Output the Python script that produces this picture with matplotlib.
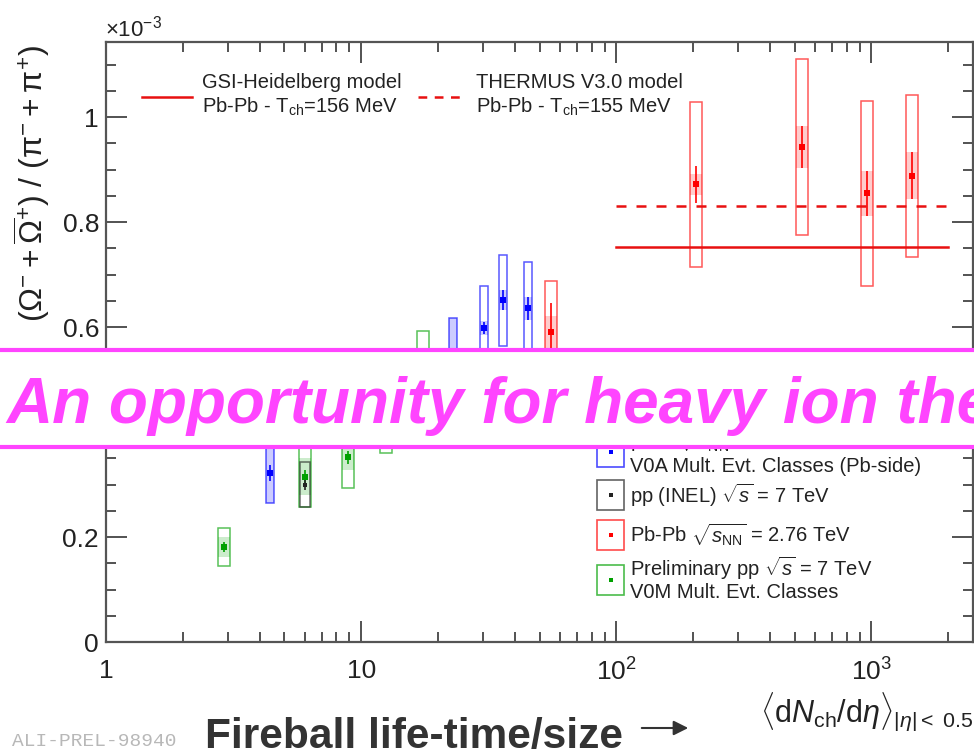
import numpy as np
import matplotlib.pyplot as plt
from matplotlib.patches import Rectangle, FancyArrowPatch
from matplotlib.lines import Line2D
from matplotlib.ticker import FixedLocator, FixedFormatter, LogLocator, MultipleLocator, NullFormatter

plt.rcParams['font.family'] = ['Liberation Sans', 'DejaVu Sans']
plt.rcParams['mathtext.fontset'] = 'custom'
plt.rcParams['mathtext.rm'] = 'Liberation Sans'
plt.rcParams['mathtext.it'] = 'Liberation Sans:italic'
plt.rcParams['mathtext.bf'] = 'Liberation Sans:bold'

# (Omega + anti-Omega) / (pi+ + pi-), in units of 1e-3, vs <dNch/deta>
# Pb-Pb 2.76 TeV
pbpb_dndeta = [55.5, 205, 535, 960, 1440]
pbpb_ratio = [0.591, 0.872, 0.943, 0.855, 0.888]
pbpb_stat = [0.054, 0.035, 0.040, 0.043, 0.045]
pbpb_sys = [0.097, 0.157, 0.168, 0.176, 0.154]
pbpb_sys_unc = [0.030, 0.020, 0.040, 0.043, 0.045]

# p-Pb 5.02 TeV, V0A classes
ppb_dndeta = [4.4, 9.8, 16.1, 22.9, 30.2, 35.9, 45.0]
ppb_ratio = [0.322, 0.460, 0.520, 0.545, 0.598, 0.651, 0.636]
ppb_stat = [0.016, 0.015, 0.015, 0.015, 0.012, 0.019, 0.022]
ppb_sys = [0.057, 0.045, 0.030, 0.072, 0.080, 0.087, 0.088]
ppb_sys_unc = [0.057, 0.025, 0.020, 0.072, 0.013, 0.019, 0.022]

# pp 7 TeV, V0M classes (preliminary)
pp_dndeta = [2.9, 6.0, 8.9, 12.5, 17.5]
pp_ratio = [0.181, 0.315, 0.352, 0.430, 0.520]
pp_stat = [0.010, 0.012, 0.012, 0.015, 0.015]
pp_sys = [0.037, 0.058, 0.059, 0.070, 0.072]
pp_sys_unc = [0.019, 0.035, 0.025, 0.030, 0.030]

# pp INEL 7 TeV
inel_dndeta = [6.0]
inel_ratio = [0.300]
inel_stat = [0.010]
inel_sys = [0.043]

# thermal model predictions for Pb-Pb
gsi_ratio = 0.752
thermus_ratio = 0.831
model_range = [100, 2000]

xtick_vals = [1, 10, 100, 1000]
xtick_labels = ['1', '10', '$10^{2}$', '$10^{3}$']
ytick_vals = [0, 0.2, 0.4, 0.6, 0.8, 1.0]
ytick_labels = ['0', '0.2', '0.4', '0.6', '0.8', '1']

W, H = 974, 749
txt = '#222222'


def px(x, y):
    # pixel position (from top-left) -> figure fraction
    return x / W, 1 - y / H


fig = plt.figure(figsize=(W / 100, H / 100), dpi=100)
ax = fig.add_axes([106 / W, 1 - 642 / H, (973 - 106) / W, 600 / H])
ax.set_xscale('log')
ax.set_xlim(1, 2500)
ax.set_ylim(0, 1.143)


def draw_series(x, y, stat, sys, sys_unc, color, fac, ms, mk='s'):
    for xi, yi, sy, su in zip(x, y, sys, sys_unc):
        lo, hi = xi / fac, xi * fac
        ax.add_patch(Rectangle((lo, yi - su), hi - lo, 2 * su, facecolor=color,
                               alpha=0.2, lw=0, zorder=2))
        ax.add_patch(Rectangle((lo, yi - sy), hi - lo, 2 * sy, fill=False,
                               edgecolor=color, lw=1.1, alpha=0.65, zorder=3))
    ax.errorbar(x, y, yerr=stat, fmt=mk, color=color, ms=ms, mew=0,
                elinewidth=1.2, capsize=0, zorder=4)


draw_series(pp_dndeta, pp_ratio, pp_stat, pp_sys, pp_sys_unc, '#00a000', 1.056, 4)
draw_series(inel_dndeta, inel_ratio, inel_stat, inel_sys, [0.0], '#222222', 1.046, 3.5)
draw_series(ppb_dndeta, ppb_ratio, ppb_stat, ppb_sys, ppb_sys_unc, '#0000ff', 1.037, 4)
draw_series(pbpb_dndeta, pbpb_ratio, pbpb_stat, pbpb_sys, pbpb_sys_unc, '#ff0000', 1.058, 5)

ax.plot(model_range, [gsi_ratio] * 2, color='#e81010', lw=1.8, zorder=5)
ax.plot(model_range, [thermus_ratio] * 2, color='#e81010', lw=1.8,
        ls=(0, (4, 4)), zorder=5)

# axes styling
for s in ax.spines.values():
    s.set_color('#555555')
    s.set_linewidth(1.6)
ax.xaxis.set_major_locator(FixedLocator(xtick_vals))
ax.xaxis.set_major_formatter(FixedFormatter(xtick_labels))
ax.xaxis.set_minor_locator(LogLocator(base=10, subs=np.arange(2, 10), numticks=20))
ax.xaxis.set_minor_formatter(NullFormatter())
ax.yaxis.set_major_locator(FixedLocator(ytick_vals))
ax.yaxis.set_major_formatter(FixedFormatter(ytick_labels))
ax.yaxis.set_minor_locator(MultipleLocator(0.05))
ax.tick_params(which='both', direction='in', top=True, right=True,
               color='#444444', width=1.3, labelcolor=txt, labelsize=19)
ax.tick_params(which='major', length=15)
ax.tick_params(which='minor', length=7.5)
ax.tick_params(axis='x', pad=12)
ax.tick_params(axis='y', pad=5)

fig.text(*px(105, 37), r'$\times10^{-3}$', fontsize=16, color=txt, va='baseline')
fig.text(*px(32, 184), r'$\mathrm{(\Omega^{-} + \overline{\Omega}^{+})\ /\ (\pi^{-} + \pi^{+})}$',
         rotation=90, ha='center', va='center', fontsize=23, color=txt)
fig.text(*px(973, 712), r'$\langle\mathrm{d}N_{\mathrm{ch}}/\mathrm{d}\eta\rangle_{|\eta|<\ 0.5}$',
         ha='right', va='center', fontsize=22, color=txt)

# model legend
lfs = 14.5
for (x0, x1), ls in [((142, 192), '-'), ((418, 463), (0, (3.5, 3)))]:
    a, b = px(x0, 97), px(x1, 97)
    fig.add_artist(Line2D([a[0], b[0]], [a[1], b[1]], color='#e81010', lw=1.8, ls=ls))
fig.text(*px(202, 82), 'GSI-Heidelberg model', fontsize=lfs, color=txt, va='center')
fig.text(*px(202, 107), r'Pb-Pb - T$_{\rm ch}$=156 MeV', fontsize=lfs, color=txt, va='center')
fig.text(*px(476, 82), 'THERMUS V3.0 model', fontsize=lfs, color=txt, va='center')
fig.text(*px(476, 107), r'Pb-Pb - T$_{\rm ch}$=155 MeV', fontsize=lfs, color=txt, va='center')

# data legend
entries = [
    ('#0000ff', (436, 467), [(441, r'p-Pb $\sqrt{s_{\rm NN}}$ = 5.02 TeV'),
                             (466, 'V0A Mult. Evt. Classes (Pb-side)')]),
    ('#222222', (480, 510), [(495, r'pp (INEL) $\sqrt{s}$ = 7 TeV')]),
    ('#ff0000', (520, 550), [(535, r'Pb-Pb $\sqrt{s_{\rm NN}}$ = 2.76 TeV')]),
    ('#00a000', (565, 595), [(568, r'Preliminary pp $\sqrt{s}$ = 7 TeV'),
                             (592, 'V0M Mult. Evt. Classes')]),
]
for color, (t, b), lines in entries:
    x0, y0 = px(597, b)
    x1, y1 = px(624, t)
    fig.add_artist(Rectangle((x0, y0), x1 - x0, y1 - y0, transform=fig.transFigure,
                             fill=False, edgecolor=color, lw=1.2, alpha=0.7))
    fig.add_artist(Line2D([(x0 + x1) / 2], [(y0 + y1) / 2], marker='s', ms=3.5,
                          color=color, mew=0, transform=fig.transFigure))
    for y, s in lines:
        fig.text(*px(630, y), s, fontsize=lfs, color=txt, va='center')

# bottom annotations
fig.text(*px(12, 742), 'ALI-PREL-98940', fontsize=14, family='Liberation Mono',
         color='#b8b8b8', va='center')
fig.text(*px(205, 748), 'Fireball life-time/size', fontsize=30.5, fontweight='bold',
         color='#333333', va='baseline')
fig.add_artist(FancyArrowPatch(px(639, 728), px(691, 728), transform=fig.transFigure,
                               arrowstyle='-|>', mutation_scale=22, lw=1.5,
                               color='#333333'))

# banner across the middle
magenta = '#ff44ff'
fig.add_artist(Rectangle(px(0, 447), 1, 97 / H, transform=fig.transFigure,
                         facecolor='white', edgecolor='none', zorder=5))
for yb in (350, 447):
    fig.add_artist(Line2D([0, 1], [px(0, yb)[1]] * 2, color=magenta, lw=3,
                          transform=fig.transFigure, zorder=6))
fig.text(*px(6, 423), 'An opportunity for heavy ion theory', fontsize=46,
         fontweight='bold', fontstyle='italic', color=magenta, va='baseline', zorder=7)

fig.savefig('out.png', dpi=100)
